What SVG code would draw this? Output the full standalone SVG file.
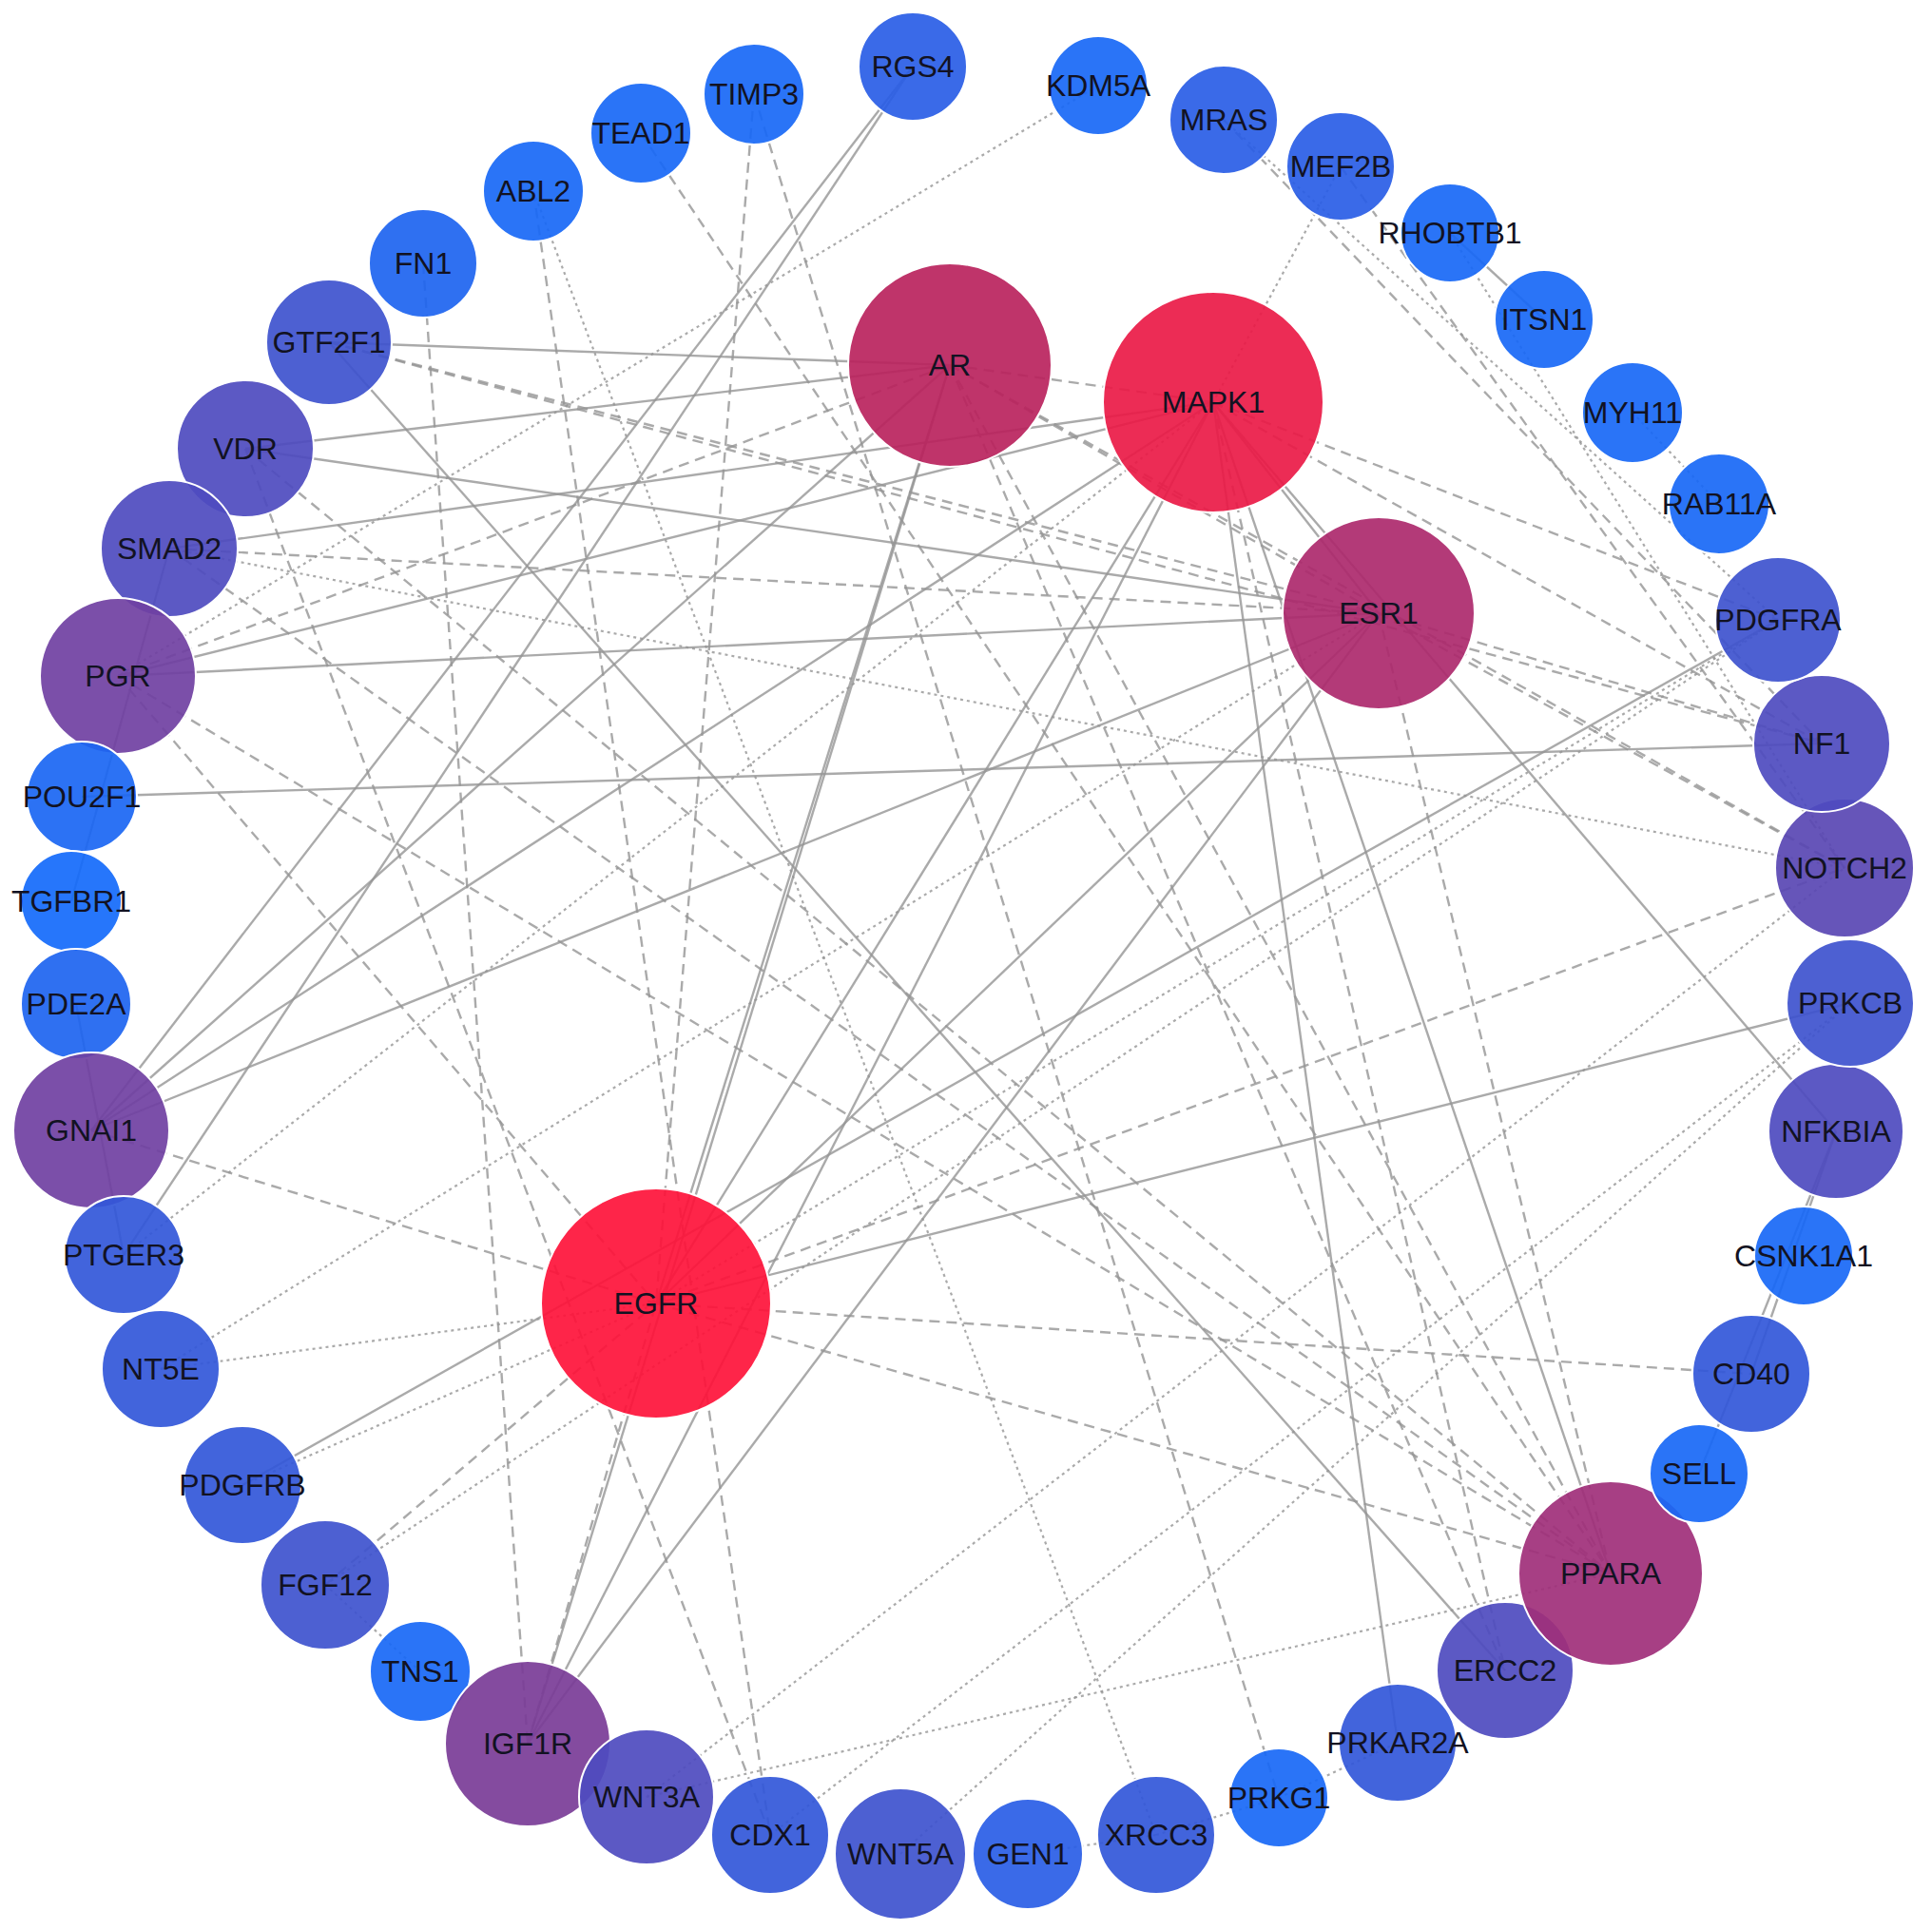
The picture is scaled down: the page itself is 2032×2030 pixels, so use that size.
<svg xmlns="http://www.w3.org/2000/svg" width="2032" height="2030" viewBox="0 0 2032 2030">
<style>
.e{stroke:#959595;stroke-width:2.4;fill:none;stroke-opacity:0.8}
.s{}
.d{stroke-dasharray:11 7}
.o{stroke-dasharray:3 4;stroke-width:2.2}
.n circle{stroke:#ffffff;stroke-width:2;fill-opacity:0.92}
.n text{font-family:"Liberation Sans",Arial,sans-serif;font-size:32px;fill:#121222;text-anchor:middle}
</style>
<rect width="2032" height="2030" fill="#ffffff"/>
<g id="edges">
<line class="e s" x1="960" y1="70" x2="96" y2="1189"/>
<line class="e s" x1="960" y1="70" x2="130" y2="1320"/>
<line class="e d" x1="793" y1="99" x2="690" y2="1371"/>
<line class="e d" x1="793" y1="99" x2="1345" y2="1891"/>
<line class="e d" x1="674" y1="140" x2="1694" y2="1655"/>
<line class="e d" x1="561" y1="201" x2="810" y2="1930"/>
<line class="e o" x1="561" y1="201" x2="1216" y2="1930"/>
<line class="e d" x1="445" y1="277" x2="555" y2="1834"/>
<line class="e o" x1="1155" y1="90" x2="124" y2="711"/>
<line class="e d" x1="1287" y1="126" x2="1916" y2="782"/>
<line class="e o" x1="1287" y1="126" x2="1870" y2="652"/>
<line class="e o" x1="1410" y1="175" x2="1276" y2="423"/>
<line class="e d" x1="1410" y1="175" x2="1940" y2="913"/>
<line class="e o" x1="1525" y1="245" x2="1940" y2="913"/>
<line class="e s" x1="1525" y1="245" x2="1624" y2="336"/>
<line class="e o" x1="1717" y1="434" x2="1808" y2="530"/>
<line class="e s" x1="346" y1="360" x2="999" y2="384"/>
<line class="e d" x1="346" y1="360" x2="1450" y2="645"/>
<line class="e d" x1="346" y1="360" x2="1916" y2="782"/>
<line class="e s" x1="346" y1="360" x2="1583" y2="1757"/>
<line class="e s" x1="258" y1="472" x2="999" y2="384"/>
<line class="e s" x1="258" y1="472" x2="1450" y2="645"/>
<line class="e d" x1="258" y1="472" x2="810" y2="1930"/>
<line class="e d" x1="258" y1="472" x2="1694" y2="1655"/>
<line class="e s" x1="178" y1="577" x2="1276" y2="423"/>
<line class="e d" x1="178" y1="577" x2="1450" y2="645"/>
<line class="e o" x1="178" y1="577" x2="1940" y2="913"/>
<line class="e d" x1="178" y1="577" x2="1694" y2="1655"/>
<line class="e s" x1="178" y1="577" x2="75" y2="948"/>
<line class="e s" x1="124" y1="711" x2="1276" y2="423"/>
<line class="e s" x1="124" y1="711" x2="1450" y2="645"/>
<line class="e d" x1="124" y1="711" x2="999" y2="384"/>
<line class="e d" x1="124" y1="711" x2="1694" y2="1655"/>
<line class="e d" x1="124" y1="711" x2="690" y2="1371"/>
<line class="e s" x1="86" y1="838" x2="1916" y2="782"/>
<line class="e s" x1="96" y1="1189" x2="999" y2="384"/>
<line class="e s" x1="96" y1="1189" x2="1276" y2="423"/>
<line class="e s" x1="96" y1="1189" x2="1450" y2="645"/>
<line class="e d" x1="96" y1="1189" x2="690" y2="1371"/>
<line class="e s" x1="80" y1="1056" x2="130" y2="1320"/>
<line class="e o" x1="130" y1="1320" x2="1276" y2="423"/>
<line class="e o" x1="169" y1="1440" x2="690" y2="1371"/>
<line class="e o" x1="169" y1="1440" x2="1450" y2="645"/>
<line class="e s" x1="255" y1="1562" x2="1870" y2="652"/>
<line class="e o" x1="255" y1="1562" x2="690" y2="1371"/>
<line class="e d" x1="342" y1="1667" x2="690" y2="1371"/>
<line class="e o" x1="342" y1="1667" x2="1870" y2="652"/>
<line class="e o" x1="342" y1="1667" x2="442" y2="1758"/>
<line class="e s" x1="555" y1="1834" x2="999" y2="384"/>
<line class="e s" x1="555" y1="1834" x2="1276" y2="423"/>
<line class="e s" x1="555" y1="1834" x2="1450" y2="645"/>
<line class="e d" x1="555" y1="1834" x2="690" y2="1371"/>
<line class="e o" x1="680" y1="1890" x2="1694" y2="1655"/>
<line class="e o" x1="680" y1="1890" x2="1940" y2="913"/>
<line class="e o" x1="947" y1="1950" x2="1946" y2="1055"/>
<line class="e o" x1="810" y1="1930" x2="1946" y2="1055"/>
<line class="e o" x1="1081" y1="1950" x2="1216" y2="1930"/>
<line class="e o" x1="1216" y1="1930" x2="1345" y2="1891"/>
<line class="e o" x1="1345" y1="1891" x2="1470" y2="1833"/>
<line class="e s" x1="1276" y1="423" x2="1470" y2="1833"/>
<line class="e s" x1="1276" y1="423" x2="1694" y2="1655"/>
<line class="e d" x1="1276" y1="423" x2="1583" y2="1757"/>
<line class="e d" x1="1450" y1="645" x2="1694" y2="1655"/>
<line class="e d" x1="999" y1="384" x2="1694" y2="1655"/>
<line class="e d" x1="999" y1="384" x2="1583" y2="1757"/>
<line class="e d" x1="690" y1="1371" x2="1694" y2="1655"/>
<line class="e d" x1="690" y1="1371" x2="1842" y2="1445"/>
<line class="e s" x1="1931" y1="1190" x2="1842" y2="1445"/>
<line class="e s" x1="1931" y1="1190" x2="1787" y2="1550"/>
<line class="e s" x1="1276" y1="423" x2="1931" y2="1190"/>
<line class="e s" x1="690" y1="1371" x2="1946" y2="1055"/>
<line class="e d" x1="690" y1="1371" x2="1940" y2="913"/>
<line class="e o" x1="690" y1="1371" x2="1870" y2="652"/>
<line class="e s" x1="690" y1="1371" x2="1450" y2="645"/>
<line class="e s" x1="690" y1="1371" x2="1276" y2="423"/>
<line class="e s" x1="690" y1="1371" x2="999" y2="384"/>
<line class="e d" x1="999" y1="384" x2="1276" y2="423"/>
<line class="e d" x1="999" y1="384" x2="1450" y2="645"/>
<line class="e s" x1="1276" y1="423" x2="1450" y2="645"/>
<line class="e d" x1="1276" y1="423" x2="1916" y2="782"/>
<line class="e d" x1="1276" y1="423" x2="1870" y2="652"/>
<line class="e d" x1="1450" y1="645" x2="1916" y2="782"/>
<line class="e d" x1="1450" y1="645" x2="1940" y2="913"/>
<line class="e d" x1="999" y1="384" x2="1940" y2="913"/>
</g>
<g id="n-RGS4" class="n"><circle cx="960" cy="70" r="57" fill="#295de6"/><text x="960" y="81">RGS4</text></g>
<g id="n-TIMP3" class="n"><circle cx="793" cy="99" r="53" fill="#1868f6"/><text x="793" y="110">TIMP3</text></g>
<g id="n-TEAD1" class="n"><circle cx="674" cy="140" r="53" fill="#1868f6"/><text x="674" y="151">TEAD1</text></g>
<g id="n-ABL2" class="n"><circle cx="561" cy="201" r="53" fill="#1868f6"/><text x="561" y="212">ABL2</text></g>
<g id="n-FN1" class="n"><circle cx="445" cy="277" r="57" fill="#1d64f0"/><text x="445" y="288">FN1</text></g>
<g id="n-GTF2F1" class="n"><circle cx="346" cy="360" r="66" fill="#3e52ce"/><text x="346" y="371">GTF2F1</text></g>
<g id="n-VDR" class="n"><circle cx="258" cy="472" r="72" fill="#4e4bbf"/><text x="258" y="483">VDR</text></g>
<g id="n-SMAD2" class="n"><circle cx="178" cy="577" r="72" fill="#4e4bbf"/><text x="178" y="588">SMAD2</text></g>
<g id="n-PGR" class="n"><circle cx="124" cy="711" r="82" fill="#7040a2"/><text x="124" y="722">PGR</text></g>
<g id="n-POU2F1" class="n"><circle cx="86" cy="838" r="58" fill="#1a66f3"/><text x="86" y="849">POU2F1</text></g>
<g id="n-TGFBR1" class="n"><circle cx="75" cy="948" r="53" fill="#146afb"/><text x="75" y="959">TGFBR1</text></g>
<g id="n-PDE2A" class="n"><circle cx="80" cy="1056" r="58" fill="#1d64f0"/><text x="80" y="1067">PDE2A</text></g>
<g id="n-GNAI1" class="n"><circle cx="96" cy="1189" r="82" fill="#7040a2"/><text x="96" y="1200">GNAI1</text></g>
<g id="n-PTGER3" class="n"><circle cx="130" cy="1320" r="62" fill="#3257d9"/><text x="130" y="1331">PTGER3</text></g>
<g id="n-NT5E" class="n"><circle cx="169" cy="1440" r="62" fill="#3257d9"/><text x="169" y="1451">NT5E</text></g>
<g id="n-PDGFRB" class="n"><circle cx="255" cy="1562" r="62" fill="#3257d9"/><text x="255" y="1573">PDGFRB</text></g>
<g id="n-FGF12" class="n"><circle cx="342" cy="1667" r="68" fill="#3e52ce"/><text x="342" y="1678">FGF12</text></g>
<g id="n-TNS1" class="n"><circle cx="442" cy="1758" r="53" fill="#1868f6"/><text x="442" y="1769">TNS1</text></g>
<g id="n-IGF1R" class="n"><circle cx="555" cy="1834" r="87" fill="#793c97"/><text x="555" y="1845">IGF1R</text></g>
<g id="n-WNT3A" class="n"><circle cx="680" cy="1890" r="71" fill="#4e4bbf"/><text x="680" y="1901">WNT3A</text></g>
<g id="n-CDX1" class="n"><circle cx="810" cy="1930" r="62" fill="#3257d9"/><text x="810" y="1941">CDX1</text></g>
<g id="n-WNT5A" class="n"><circle cx="947" cy="1950" r="69" fill="#3e52ce"/><text x="947" y="1961">WNT5A</text></g>
<g id="n-GEN1" class="n"><circle cx="1081" cy="1950" r="58" fill="#295de6"/><text x="1081" y="1961">GEN1</text></g>
<g id="n-XRCC3" class="n"><circle cx="1216" cy="1930" r="62" fill="#3257d9"/><text x="1216" y="1941">XRCC3</text></g>
<g id="n-PRKG1" class="n"><circle cx="1345" cy="1891" r="52" fill="#1868f6"/><text x="1345" y="1902">PRKG1</text></g>
<g id="n-PRKAR2A" class="n"><circle cx="1470" cy="1833" r="62" fill="#3257d9"/><text x="1470" y="1844">PRKAR2A</text></g>
<g id="n-ERCC2" class="n"><circle cx="1583" cy="1757" r="72" fill="#4e4bbf"/><text x="1583" y="1768">ERCC2</text></g>
<g id="n-PPARA" class="n"><circle cx="1694" cy="1655" r="97" fill="#a02f7a"/><text x="1694" y="1666">PPARA</text></g>
<g id="n-SELL" class="n"><circle cx="1787" cy="1550" r="52" fill="#1868f6"/><text x="1787" y="1561">SELL</text></g>
<g id="n-CD40" class="n"><circle cx="1842" cy="1445" r="62" fill="#3257d9"/><text x="1842" y="1456">CD40</text></g>
<g id="n-CSNK1A1" class="n"><circle cx="1897" cy="1321" r="52" fill="#1868f6"/><text x="1897" y="1332">CSNK1A1</text></g>
<g id="n-NFKBIA" class="n"><circle cx="1931" cy="1190" r="71" fill="#4e4bbf"/><text x="1931" y="1201">NFKBIA</text></g>
<g id="n-PRKCB" class="n"><circle cx="1946" cy="1055" r="67" fill="#3e52ce"/><text x="1946" y="1066">PRKCB</text></g>
<g id="n-NOTCH2" class="n"><circle cx="1940" cy="913" r="73" fill="#5947b3"/><text x="1940" y="924">NOTCH2</text></g>
<g id="n-NF1" class="n"><circle cx="1916" cy="782" r="72" fill="#4e4bbf"/><text x="1916" y="793">NF1</text></g>
<g id="n-PDGFRA" class="n"><circle cx="1870" cy="652" r="66" fill="#3e52ce"/><text x="1870" y="663">PDGFRA</text></g>
<g id="n-RAB11A" class="n"><circle cx="1808" cy="530" r="53" fill="#1868f6"/><text x="1808" y="541">RAB11A</text></g>
<g id="n-MYH11" class="n"><circle cx="1717" cy="434" r="53" fill="#1868f6"/><text x="1717" y="445">MYH11</text></g>
<g id="n-ITSN1" class="n"><circle cx="1624" cy="336" r="52" fill="#1868f6"/><text x="1624" y="347">ITSN1</text></g>
<g id="n-RHOBTB1" class="n"><circle cx="1525" cy="245" r="52" fill="#1868f6"/><text x="1525" y="256">RHOBTB1</text></g>
<g id="n-MEF2B" class="n"><circle cx="1410" cy="175" r="57" fill="#295de6"/><text x="1410" y="186">MEF2B</text></g>
<g id="n-MRAS" class="n"><circle cx="1287" cy="126" r="57" fill="#295de6"/><text x="1287" y="137">MRAS</text></g>
<g id="n-KDM5A" class="n"><circle cx="1155" cy="90" r="52" fill="#1868f6"/><text x="1155" y="101">KDM5A</text></g>
<g id="n-AR" class="n"><circle cx="999" cy="384" r="107" fill="#ba235d"/><text x="999" y="395">AR</text></g>
<g id="n-MAPK1" class="n"><circle cx="1276" cy="423" r="116" fill="#ea1a46"/><text x="1276" y="434">MAPK1</text></g>
<g id="n-ESR1" class="n"><circle cx="1450" cy="645" r="101" fill="#ac296c"/><text x="1450" y="656">ESR1</text></g>
<g id="n-EGFR" class="n"><circle cx="690" cy="1371" r="121" fill="#fe1239"/><text x="690" y="1382">EGFR</text></g>
</svg>
